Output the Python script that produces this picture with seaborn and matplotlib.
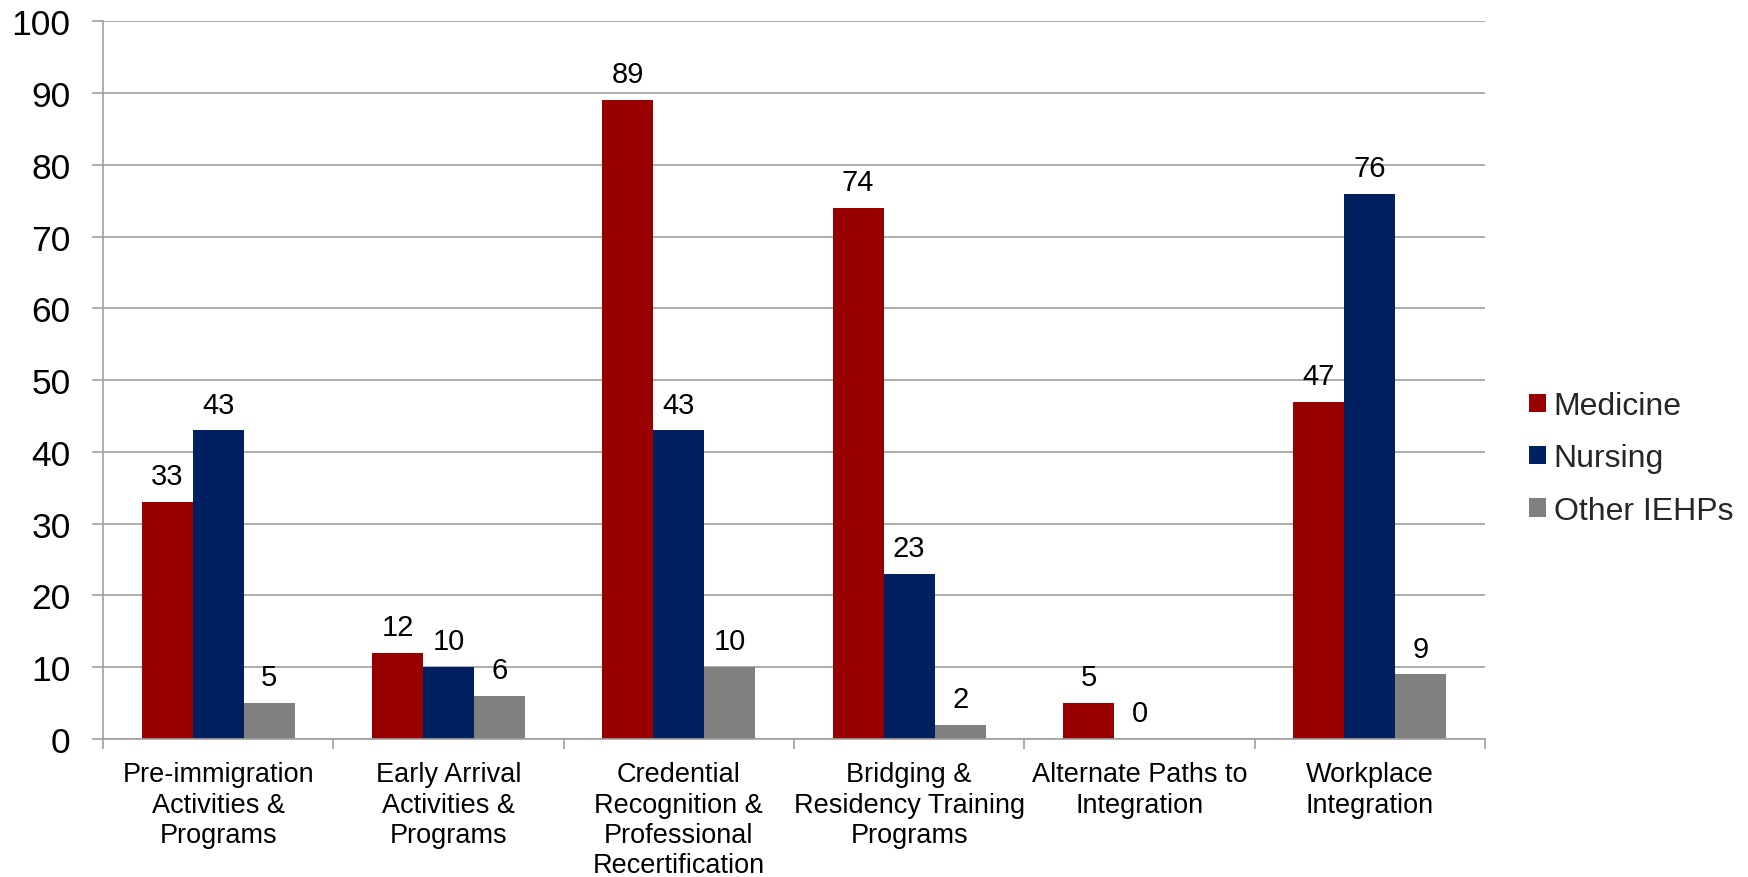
import numpy as np
import pandas as pd
import matplotlib
matplotlib.use("Agg")
import matplotlib.pyplot as plt
import seaborn as sns
from matplotlib.patches import Patch

categories = [
    "Pre-immigration\nActivities &\nPrograms",
    "Early Arrival\nActivities &\nPrograms",
    "Credential\nRecognition &\nProfessional\nRecertification",
    "Bridging &\nResidency Training\nPrograms",
    "Alternate Paths to\nIntegration",
    "Workplace\nIntegration",
]
series_names = ["Medicine", "Nursing", "Other IEHPs"]
medicine = [33, 12, 89, 74, 5, 47]
nursing = [43, 10, 43, 23, 0, 76]
other = [5, 6, 10, 2, np.nan, 9]
colors = ["#990000", "#002060", "#808080"]
yticks = [0, 10, 20, 30, 40, 50, 60, 70, 80, 90, 100]

rows = []
for name, vals in zip(series_names, [medicine, nursing, other]):
    for c, v in zip(categories, vals):
        rows.append({"category": c, "series": name, "value": v})
df = pd.DataFrame(rows)

sns.set_style("white")
plt.rcParams["font.family"] = ["Liberation Sans", "DejaVu Sans"]

W, H = 1748, 878
fig = plt.figure(figsize=(W / 100, H / 100), dpi=100)
ax = fig.add_axes([103 / W, 1 - 740 / H, (1485 - 103) / W, (740 - 22.3) / H])

sns.barplot(data=df, x="category", y="value", hue="series", order=categories,
            hue_order=series_names, palette=colors, width=0.665, saturation=1,
            ax=ax, legend=False, linewidth=0, errorbar=None)

for cont in ax.containers:
    ax.bar_label(cont, fmt=lambda v: "" if np.isnan(v) else f"{v:.0f}",
                 padding=8.5, fontsize=21, color="#000000")

ax.set_ylim(0, 100)
ax.set_xlim(-0.5, len(categories) - 0.5)
ax.set_yticks(yticks)
ax.set_yticklabels([str(t) for t in yticks], fontsize=25.5)
ax.yaxis.grid(True, color="#A0A0A0", linewidth=1.2)
ax.set_axisbelow(True)
ax.set_xlabel("")
ax.set_ylabel("")
ax.tick_params(axis="y", length=8, width=1.2, color="#A0A0A0", pad=15.3, left=True,
               labelcolor="#000000")
ax.tick_params(axis="x", which="major", length=0, pad=16, labelsize=19.5,
               labelcolor="#000000")
for lbl in ax.get_xticklabels():
    lbl.set_linespacing(1.22)
ax.set_xticks(np.arange(-0.5, len(categories)), minor=True)
ax.tick_params(axis="x", which="minor", length=7, width=1.2, color="#A0A0A0", bottom=True)

for s in ["top", "right"]:
    ax.spines[s].set_visible(False)
for s in ["left", "bottom"]:
    ax.spines[s].set_color("#A0A0A0")
    ax.spines[s].set_linewidth(1.2)

handles = [Patch(facecolor=c, edgecolor="none") for c in colors]
fig.legend(handles, series_names, loc="center left",
           bbox_to_anchor=(1529 / W, 1 - 459.5 / H), frameon=False, fontsize=23,
           handlelength=0.52, handleheight=0.52, handletextpad=0.25,
           labelspacing=0.7, borderpad=0, borderaxespad=0)

fig.savefig("out.png", dpi=100)
